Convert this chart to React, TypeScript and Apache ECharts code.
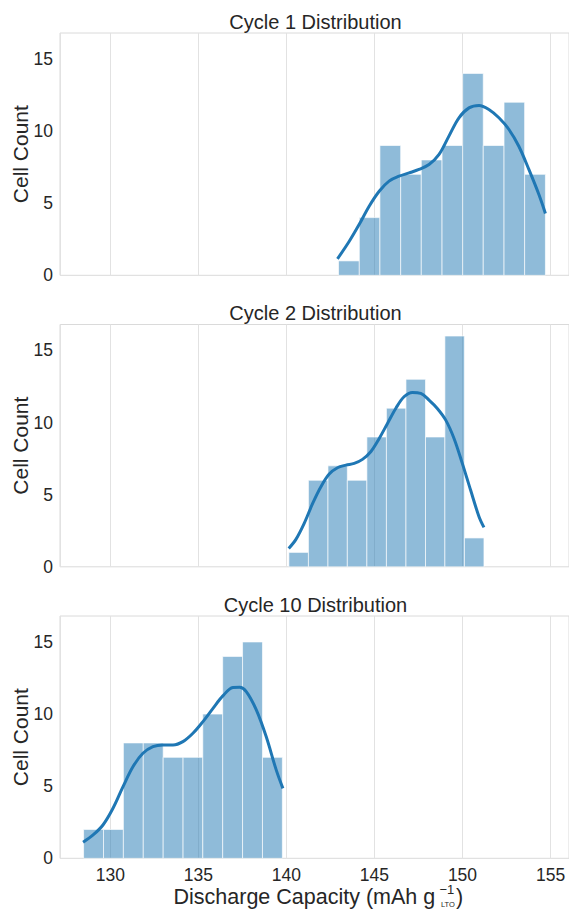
import React, { useEffect, useRef } from "react";
import * as echarts from "echarts";

const cycleTitles = ["Cycle 1 Distribution", "Cycle 2 Distribution", "Cycle 10 Distribution"];
const yAxisTitle = "Cell Count";
const xAxisTitleMain = "Discharge Capacity (mAh g";
const xAxisTitleSup = "\u22121";
const xAxisTitleSub = "LTO";
const xAxisTitleClose = ")";

const xTickValues = [130, 135, 140, 145, 150, 155];
const yTickValues = [0, 5, 10, 15];

// histogram bin edges and counts
const cycle1Edges = [142.96, 144.14, 145.31, 146.49, 147.66, 148.84, 150.01, 151.18, 152.36, 153.53, 154.71];
const cycle1Counts = [1, 4, 9, 7, 8, 9, 14, 9, 12, 7];

const cycle2Edges = [140.14, 141.25, 142.36, 143.46, 144.57, 145.68, 146.79, 147.9, 149.0, 150.11, 151.22];
const cycle2Counts = [1, 6, 7, 6, 9, 11, 13, 9, 16, 2];

const cycle10Edges = [128.48, 129.61, 130.74, 131.87, 133.0, 134.13, 135.25, 136.38, 137.51, 138.64, 139.77];
const cycle10Counts = [2, 2, 8, 8, 7, 7, 10, 14, 15, 7];

// KDE curves
const cycle1Kde = [
  [142.9, 1.14], [143.57, 2.36], [144.13, 3.52], [144.7, 4.79], [145.27, 5.83], [145.83, 6.53],
  [146.4, 6.87], [146.97, 7.1], [147.53, 7.34], [148.1, 7.68], [148.67, 8.38], [149.23, 9.65],
  [149.8, 10.92], [150.37, 11.61], [150.94, 11.78], [151.5, 11.5], [152.07, 10.92], [152.64, 10.11],
  [153.2, 8.95], [153.77, 7.34], [154.34, 5.6], [154.71, 4.28],
];
const cycle2Kde = [
  [140.13, 1.27], [140.54, 1.9], [141.01, 3.01], [141.49, 4.39], [141.96, 5.55], [142.43, 6.43],
  [142.9, 6.87], [143.38, 7.05], [143.85, 7.17], [144.32, 7.45], [144.79, 7.98], [145.27, 8.9],
  [145.74, 9.94], [146.21, 10.98], [146.68, 11.79], [147.16, 12.09], [147.63, 12.02], [148.1, 11.56],
  [148.57, 10.98], [149.05, 10.17], [149.52, 8.9], [149.99, 7.17], [150.46, 5.32], [150.94, 3.47],
  [151.22, 2.73],
];
const cycle10Kde = [
  [128.45, 1.11], [129.02, 1.62], [129.58, 2.31], [130.15, 3.47], [130.72, 4.97], [131.29, 6.36],
  [131.85, 7.28], [132.42, 7.74], [132.99, 7.86], [133.56, 7.86], [134.12, 8.09], [134.69, 8.67],
  [135.26, 9.48], [135.83, 10.4], [136.39, 11.26], [136.96, 11.84], [137.34, 11.86], [137.72, 11.56],
  [138.29, 10.29], [138.85, 8.44], [139.42, 6.13], [139.8, 4.85],
];

const X_MIN = 127.14;
const X_MAX = 156.05;
const Y_MAX = 16.8;

const TEXT = "#262626";
const FONT = "'Liberation Sans', Arial, Helvetica, sans-serif";

export default function App() {
  const ref = useRef<HTMLDivElement>(null);

  useEffect(() => {
    if (!ref.current) return;
    const chart = echarts.init(ref.current, undefined, { renderer: "svg" });

    const panels = [
      { edges: cycle1Edges, counts: cycle1Counts, kde: cycle1Kde },
      { edges: cycle2Edges, counts: cycle2Counts, kde: cycle2Kde },
      { edges: cycle10Edges, counts: cycle10Counts, kde: cycle10Kde },
    ];
    const tops = [33, 324.5, 616];
    const H = 242.3;
    const L = 60;
    const W = 510;

    const grids = tops.map((t) => ({
      left: L,
      top: t,
      width: W,
      height: H,
      show: true,
      borderColor: "#dadada",
      borderWidth: 1,
      backgroundColor: "transparent",
    }));

    const xAxes = tops.map((_, i) => ({
      type: "value",
      gridIndex: i,
      min: X_MIN,
      max: X_MAX,
      splitNumber: 6,
      axisLine: { show: false },
      axisTick: { show: false },
      splitLine: { show: true, lineStyle: { color: "#e2e2e2", width: 1 } },
      axisLabel: {
        show: i === 2,
        showMinLabel: false,
        showMaxLabel: false,
        margin: 8,
        fontSize: 17.5,
        fontFamily: FONT,
        color: TEXT,
        formatter: (v: number) => (xTickValues.indexOf(v) >= 0 ? String(v) : ""),
      },
    }));

    const yAxes = tops.map((_, i) => ({
      type: "value",
      gridIndex: i,
      min: 0,
      max: Y_MAX,
      interval: 5,
      axisLine: { show: false },
      axisTick: { show: false },
      splitLine: { show: false },
      axisLabel: {
        showMaxLabel: false,
        margin: 7,
        fontSize: 17.5,
        fontFamily: FONT,
        color: TEXT,
        formatter: (v: number) => (yTickValues.indexOf(v) >= 0 ? String(v) : ""),
      },
    }));

    const series: any[] = [];
    panels.forEach((p, i) => {
      const binData = p.counts.map((c, k) => [p.edges[k], p.edges[k + 1], c]);
      series.push({
        type: "custom",
        xAxisIndex: i,
        yAxisIndex: i,
        data: binData,
        encode: { x: [0, 1], y: 2 },
        z: 2,
        renderItem: (_params: any, api: any) => {
          const a = api.coord([api.value(0), api.value(2)]);
          const b = api.coord([api.value(1), 0]);
          return {
            type: "rect",
            shape: { x: a[0], y: a[1], width: b[0] - a[0], height: b[1] - a[1] },
            style: {
              fill: "rgba(31,119,180,0.5)",
              stroke: "rgba(255,255,255,0.65)",
              lineWidth: 1,
            },
          };
        },
      });
      series.push({
        type: "line",
        xAxisIndex: i,
        yAxisIndex: i,
        data: p.kde,
        smooth: 0.35,
        showSymbol: false,
        symbol: "none",
        z: 3,
        lineStyle: { color: "#1f77b4", width: 3 },
      });
    });

    const plotCenterX = L + (569 - L) / 2;
    const graphics: any[] = [];
    tops.forEach((t, i) => {
      graphics.push({
        type: "text",
        x: plotCenterX + 1,
        y: t - 11.2,
        style: {
          text: cycleTitles[i],
          fontSize: 20,
          fontFamily: FONT,
          fill: TEXT,
          align: "center",
          verticalAlign: "middle",
        },
      });
      graphics.push({
        type: "text",
        x: 20,
        y: t + H / 2,
        rotation: Math.PI / 2,
        style: {
          text: yAxisTitle,
          fontSize: 21,
          fontFamily: FONT,
          fill: TEXT,
          align: "center",
          verticalAlign: "middle",
        },
      });
    });
    graphics.push({
      type: "text",
      x: 173.5,
      y: 896.5,
      style: { text: xAxisTitleMain, fontSize: 21.5, fontFamily: FONT, fill: TEXT, align: "left", verticalAlign: "middle" },
    });
    graphics.push({
      type: "text",
      x: 439.5,
      y: 889.5,
      style: { text: xAxisTitleSup, fontSize: 13, fontFamily: FONT, fill: TEXT, align: "left", verticalAlign: "middle" },
    });
    graphics.push({
      type: "text",
      x: 441,
      y: 904.5,
      style: { text: xAxisTitleSub, fontSize: 7.5, fontFamily: FONT, fill: TEXT, align: "left", verticalAlign: "middle" },
    });
    graphics.push({
      type: "text",
      x: 456,
      y: 896.5,
      style: { text: xAxisTitleClose, fontSize: 21.5, fontFamily: FONT, fill: TEXT, align: "left", verticalAlign: "middle" },
    });

    chart.setOption({
      animation: false,
      backgroundColor: "#ffffff",
      grid: grids,
      xAxis: xAxes,
      yAxis: yAxes,
      series,
      graphic: graphics,
    });

    return () => chart.dispose();
  }, []);

  return (
    <div
      ref={ref}
      style={{ position: "absolute", left: 0, top: 0, width: 569, height: 909 }}
    />
  );
}
